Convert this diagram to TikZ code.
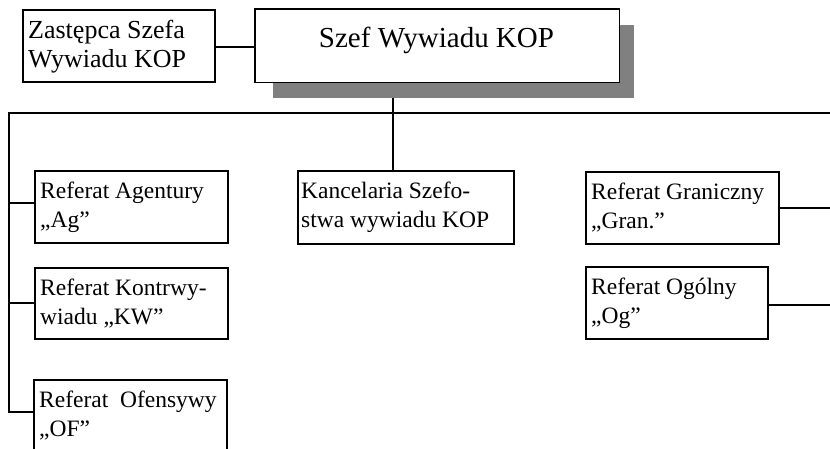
\documentclass[tikz,border=0pt]{standalone}
\usepackage{fontspec}
\setmainfont{Liberation Serif}
\begin{document}
\begin{tikzpicture}[x=1pt,y=-1pt,
  box/.style={draw=black,line width=1.6pt,fill=white,rectangle,inner sep=0pt,anchor=north west},
  conn/.style={draw=black,line width=1.3pt},
  txt/.style={anchor=base west,inner sep=0pt,font=\fontsize{23.5}{29}\selectfont},
  shadowbox/.style={fill=black!50,draw=none,inner sep=0pt,anchor=north west}]
\useasboundingbox (0,0) rectangle (830,448);
\clip (0,0) rectangle (830,448);
% bus coordinates
\coordinate (lbus) at (9,113);
\coordinate (rbus) at (836,113);
\coordinate (trunk) at (393,113);
% shadow and boxes
\node[shadowbox,minimum width=361pt,minimum height=73pt] (shadow) at (273,25) {};
\node[box,minimum width=192pt,minimum height=72pt] (zast) at (22,9) {};
\node[box,minimum width=363pt,minimum height=72pt] (main) at (255,9) {};
\node[box,minimum width=216pt,minimum height=73pt] (kanc) at (297,170) {};
\node[box,minimum width=193pt,minimum height=72pt] (ag) at (34,170) {};
\node[box,minimum width=193pt,minimum height=71pt] (kw) at (34,267) {};
\node[box,minimum width=193pt,minimum height=72pt] (of) at (33,379) {};
\node[box,minimum width=193pt,minimum height=72pt] (gran) at (585,171) {};
\node[box,minimum width=182pt,minimum height=72pt] (og) at (585,266) {};
% connectors
\begin{scope}[on background layer/.style={}]
\end{scope}
\draw[conn] (zast.east |- 0,47) -- (main.west |- 0,47);
\draw[conn] (trunk |- shadow.south) -- (trunk |- kanc.north);
\draw[conn] (rbus) -- (lbus) -- (lbus |- 0,412) -- (of.west |- 0,412);
\draw[conn] (lbus |- 0,203) -- (ag.west |- 0,203);
\draw[conn] (lbus |- 0,303) -- (kw.west |- 0,303);
\draw[conn] (gran.east |- 0,208) -- (rbus |- 0,208);
\draw[conn] (og.east |- 0,305) -- (rbus |- 0,305);
\draw[conn] (rbus) -- (rbus |- 0,448);
% redraw boxes on top of lines
\fill[black!50] (shadow.north west) rectangle (shadow.south east);
\filldraw[fill=white,draw=black,line width=1.6pt] (main.north west) rectangle (main.south east);
% texts
\node[txt,font=\fontsize{29}{34}\selectfont,anchor=base] (maint) at (436.5,47) {Szef Wywiadu KOP};
\node[txt,font=\fontsize{26}{29}\selectfont] (zastt) at (28,38) {\parbox[t]{190pt}{Zastępca Szefa\\Wywiadu KOP}};
\node[txt] (agt) at (40,198) {\parbox[t]{190pt}{Referat Agentury\\„Ag”}};
\node[txt] (kwt) at (40,295) {\parbox[t]{190pt}{Referat Kontrwy-\\wiadu „KW”}};
\node[txt] (oft) at (39,407) {\parbox[t]{190pt}{Referat\hspace{0.5em}Ofensywy\\„OF”}};
\node[txt] (kanct) at (301,198) {\parbox[t]{210pt}{Kancelaria Szefo-\\stwa wywiadu KOP}};
\node[txt] (grant) at (591,199) {\parbox[t]{190pt}{Referat Graniczny\\„Gran.”}};
\node[txt] (ogt) at (591,294) {\parbox[t]{190pt}{Referat Ogólny\\„Og”}};
\end{tikzpicture}
\end{document}
